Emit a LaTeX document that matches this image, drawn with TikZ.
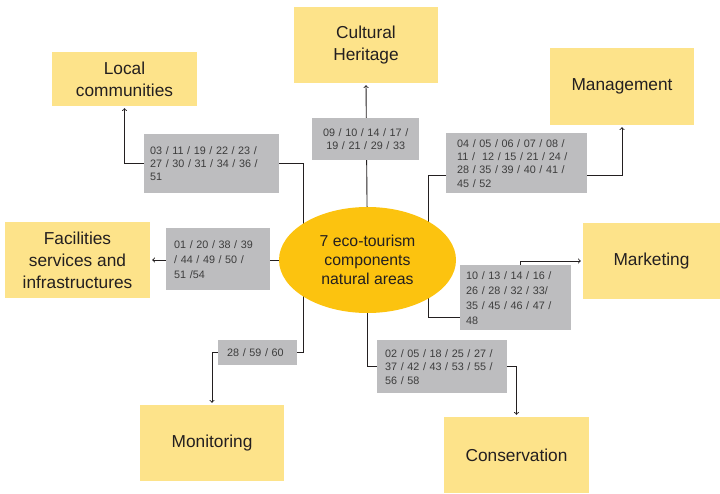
\documentclass[tikz,border=0pt]{standalone}
\usepackage{fontspec}
\setmainfont{Liberation Sans}
\usepackage{xcolor}
\usepackage{tikz}
\usetikzlibrary{shapes.geometric,backgrounds}

\definecolor{boxyellow}{HTML}{FDE38A}
\definecolor{hubyellow}{HTML}{FCC30F}
\definecolor{codegray}{HTML}{BDBDBF}
\definecolor{ink}{HTML}{231F20}
\definecolor{codeink}{HTML}{3C3C3C}

\begin{document}
\begin{tikzpicture}[x=1pt, y=-1pt,
    topic/.style={fill=boxyellow, text=ink, minimum height=76pt, minimum width=144pt,
        align=center, inner sep=0pt, font=\fontsize{17.3}{22}\selectfont},
    codes/.style={fill=codegray, text=codeink, anchor=north west, align=left,
        inner ysep=3pt, font=\fontsize{10.8}{13.3}\selectfont},
    link/.style={line width=0.9pt, ink},
    arr/.style={link, ->, shorten >=2pt}]
    \useasboundingbox (0,0) rectangle (720,494);
    % centre
    \node[ellipse, fill=hubyellow, text=ink, minimum width=177pt, minimum height=106pt,
        inner sep=0pt, align=center, font=\fontsize{15.8}{19}\selectfont]
        (hub) at (367.5,260) {7 eco-tourism\\components\\natural areas};
    % components
    \node[topic, minimum width=145pt, minimum height=54pt] (loc) at (124.5,79) {Local\\communities};
    \node[topic] (cult) at (366,45) {Cultural\\Heritage};
    \node[topic, minimum height=77pt] (mgmt) at (622,86.5) {Management};
    \node[topic, minimum width=145pt] (fac) at (77.5,260) {Facilities\\services and\\infrastructures};
    \node[topic, minimum width=137pt] (mkt) at (651.5,261) {Marketing};
    \node[topic] (mon) at (212,443) {Monitoring};
    \node[topic, minimum width=145pt] (cons) at (516.5,455) {Conservation};
    % codes
    \node[codes, inner xsep=6pt, text width=123pt, minimum height=59pt] (lcC) at (144,134)
        {03 / 11 / 19 / 22 / 23 /\\27 / 30 / 31 / 34 / 36 /\\51};
    \node[codes, inner xsep=6pt, text width=95pt, minimum height=42pt, align=center] (chC) at (312,118)
        {09 / 10 / 14 / 17 /\\19 / 21 / 29 / 33};
    \node[codes, inner xsep=11pt, text width=119pt, minimum height=60pt] (mgC) at (446,133)
        {04 / 05 / 06 / 07 / 08 /\\11 /\ \ 12 / 15 / 21 / 24 /\\28 / 35 / 39 / 40 / 41 /\\45 / 52};
    \node[codes, inner xsep=8pt, text width=88pt, minimum height=62pt,
        font=\fontsize{10.8}{15}\selectfont] (faC) at (166,228)
        {01 / 20 / 38 / 39\\/ 44 / 49 / 50 /\\51 /54};
    \node[codes, inner xsep=6pt, text width=99pt, minimum height=65pt,
        font=\fontsize{10.8}{15}\selectfont] (mkC) at (460,265)
        {10 / 13 / 14 / 16 /\\26 / 28 / 32 / 33/\\35 / 45 / 46 / 47 /\\48};
    \node[codes, inner xsep=9pt, text width=61pt, minimum height=25pt] (moC) at (218,340)
        {28 / 59 / 60};
    \node[codes, inner xsep=8pt, text width=114pt, minimum height=53pt,
        font=\fontsize{10.8}{13.5}\selectfont] (coC) at (377,340)
        {02 / 05 / 18 / 25 / 27 /\\37 / 42 / 43 / 53 / 55 /\\56 / 58};
    % spines
    \coordinate (wL) at (303,260);
    \coordinate (eR) at (428,260);
    \coordinate (mkTurn) at (520,317);
    \begin{pgfonlayer}{background}
        \draw[arr] (wL) |- (lcC.west) -| (loc.south);
        \draw[arr] (hub.center) -- (cult.south);
        \draw[arr] (eR) |- ([yshift=-12pt]mgC.west) -| (mgmt.south);
        \draw[arr] (hub.west) -- (fac.east);
        \draw[arr] (eR) |- (mkTurn) |- (mkt.west);
        \draw[arr] (wL) |- (moC.west) -| (mon.north);
        \draw[arr] (hub.center) |- (coC.west) -| (cons.north);
    \end{pgfonlayer}
\end{tikzpicture}
\end{document}
